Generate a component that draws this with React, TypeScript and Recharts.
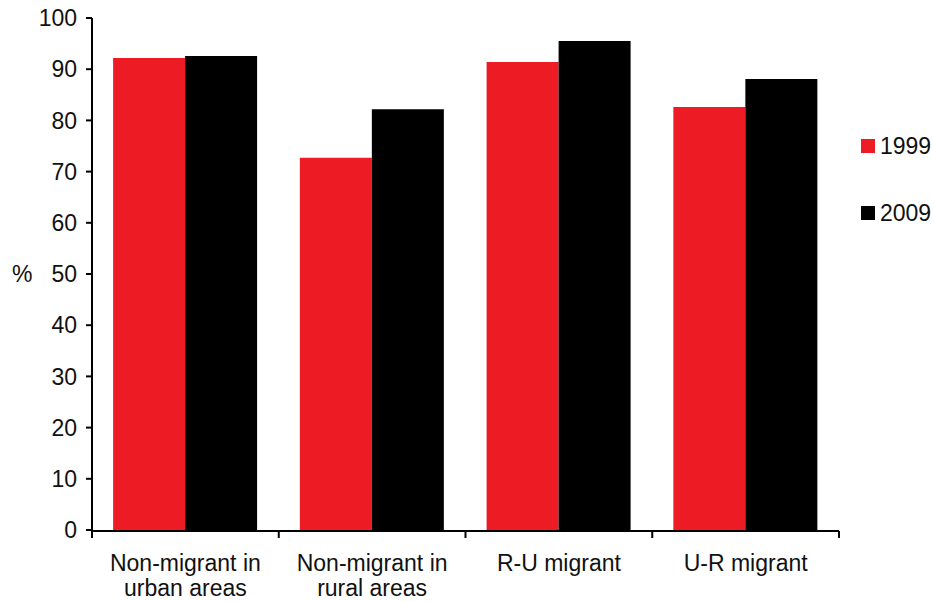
import React from 'react';
import { BarChart, Bar, XAxis, YAxis } from 'recharts';

const categories = ['Non-migrant in|urban areas', 'Non-migrant in|rural areas', 'R-U migrant', 'U-R migrant'];
const values1999 = [92.2, 72.7, 91.4, 82.6];
const values2009 = [92.6, 82.2, 95.5, 88.1];
const yTicks = [0, 10, 20, 30, 40, 50, 60, 70, 80, 90, 100];
const edgeTicks = [0, 1, 2, 3, 4];
const seriesNames = ['1999', '2009'];

const RED = '#ED1C24';
const FONT = '"Liberation Sans", Arial, sans-serif';
const FS = 23;

const data = categories.map((name, i) => ({ name, edge: i, y1999: values1999[i], y2009: values2009[i] }));

const CategoryTick = (props: any) => {
    const { x, y, payload } = props;
    const lines = String(payload.value).split('|');
    return (
        <text x={x} y={y} textAnchor="middle" fontFamily={FONT} fontSize={FS} fill="#111">
            {lines.map((line, i) => (
                <tspan key={i} x={x} y={y + 33 + i * 25}>{line}</tspan>
            ))}
        </text>
    );
};

const LegendBox = () => (
    <div style={{ position: 'absolute', left: 861, top: 133, fontFamily: FONT, fontSize: FS, color: '#111' }}>
        {seriesNames.map((label, i) => (
            <div key={label} style={{ display: 'flex', alignItems: 'center', height: 26, marginBottom: i === 0 ? 41 : 0 }}>
                <span style={{ width: 14, height: 14, background: i === 0 ? RED : '#000', display: 'inline-block', marginRight: 5 }} />
                <span>{label}</span>
            </div>
        ))}
    </div>
);

export default function App() {
    return (
        <div style={{ position: 'absolute', left: 0, top: 0, width: 933, height: 601, background: '#fff' }}>
            <BarChart
                width={933}
                height={601}
                data={data}
                margin={{ top: 18, right: 94, bottom: 0, left: 0 }}
                barCategoryGap="11.3%"
                barGap={0}
            >
                <XAxis
                    dataKey="name"
                    height={1}
                    axisLine={false}
                    tickLine={false}
                    tick={<CategoryTick />}
                    interval={0}
                />
                <XAxis
                    xAxisId="edges"
                    type="number"
                    dataKey="edge"
                    domain={[0, 4]}
                    ticks={edgeTicks}
                    tickFormatter={() => ''}
                    tickSize={7}
                    height={70}
                    interval={0}
                    axisLine={{ stroke: '#000', strokeWidth: 2 }}
                    tickLine={{ stroke: '#000', strokeWidth: 2 }}
                    allowDataOverflow
                />
                <YAxis
                    domain={[0, 100]}
                    ticks={yTicks}
                    width={92}
                    tickSize={6}
                    tickMargin={9}
                    interval={0}
                    axisLine={{ stroke: '#000', strokeWidth: 2 }}
                    tickLine={{ stroke: '#000', strokeWidth: 2 }}
                    tick={{ fontFamily: FONT, fontSize: FS, fill: '#111' }}
                    label={{ value: '%', position: 'insideLeft', offset: 12, fontFamily: FONT, fontSize: FS, fill: '#111' }}
                />
                <Bar dataKey="y1999" name="1999" fill={RED} isAnimationActive={false} />
                <Bar dataKey="y2009" name="2009" fill="#000" isAnimationActive={false} />
            </BarChart>
            <LegendBox />
        </div>
    );
}
